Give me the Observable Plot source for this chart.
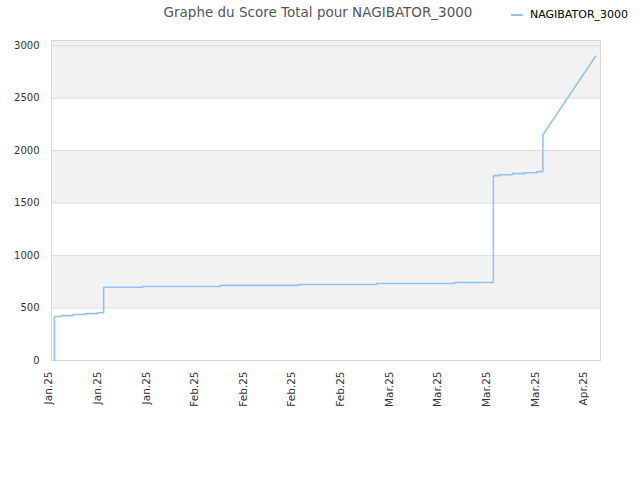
<!DOCTYPE html>
<html>
<head>
<meta charset="utf-8">
<script src="https://cdn.jsdelivr.net/npm/d3@7"></script>
<script src="https://cdn.jsdelivr.net/npm/@observablehq/plot@0.6"></script>
<style>
  body { margin: 0; background: #fff; font-family: "DejaVu Sans", sans-serif; }
  #wrap { position: relative; width: 640px; height: 480px; }
  #header { position: relative; height: 30px; }
  #title { position: absolute; left: 0; width: 636px; top: 4px; text-align: center; font-size: 13.5px; color: #555; }
  #legend { position: absolute; left: 508px; top: 8px; font-size: 11px; color: #000; display: flex; align-items: center; }
  #legend .sw { width: 12px; height: 2px; background: #92c3f2; margin-right: 7px; margin-left: 3px; }
</style>
</head>
<body>
<div id="wrap">
  <div id="header">
    <div id="title">Graphe du Score Total pour NAGIBATOR_3000</div>
    <div id="legend"><span class="sw"></span><span>NAGIBATOR_3000</span></div>
  </div>
  <div id="chart"></div>
</div>
<script>
// Series: time of each point and total score
const times = [
  "2025-01-14T03:00", "2025-01-14T03:00",
  "2025-01-15T04:00", "2025-01-15T04:00",
  "2025-01-16T21:00", "2025-01-16T21:00",
  "2025-01-18T14:00", "2025-01-18T14:00",
  "2025-01-20T08:00", "2025-01-20T08:00",
  "2025-01-21T05:00", "2025-01-21T05:00",
  "2025-01-26T19:00", "2025-01-26T19:00",
  "2025-02-07T00:00", "2025-02-07T00:00",
  "2025-02-18T06:00", "2025-02-18T06:00",
  "2025-03-01T12:00", "2025-03-01T12:00",
  "2025-03-12T17:00", "2025-03-12T17:00",
  "2025-03-18T07:00", "2025-03-18T07:00",
  "2025-03-19T07:00", "2025-03-19T07:00",
  "2025-03-21T00:00", "2025-03-21T00:00",
  "2025-03-22T19:00", "2025-03-22T19:00",
  "2025-03-24T14:00", "2025-03-24T14:00",
  "2025-03-25T10:00", "2025-03-25T10:00",
  "2025-04-02T00:00"
];
const scores = [
  0, 420,
  420, 428,
  428, 438,
  438, 447,
  447, 455,
  455, 698,
  698, 706,
  706, 716,
  716, 725,
  725, 734,
  734, 743,
  743, 1762,
  1762, 1771,
  1771, 1781,
  1781, 1790,
  1790, 1800,
  1800, 2150,
  2900
];
const seriesName = "NAGIBATOR_3000";

// Axis ticks
const xTicks = ["2025-01-13T08:00", "2025-01-20T08:00", "2025-01-27T08:00", "2025-02-03T08:00",
                "2025-02-10T08:00", "2025-02-17T08:00", "2025-02-24T08:00", "2025-03-03T08:00",
                "2025-03-10T08:00", "2025-03-17T08:00", "2025-03-24T08:00", "2025-03-31T08:00"];
const xTickLabels = ["Jan.25", "Jan.25", "Jan.25", "Feb.25", "Feb.25", "Feb.25",
                     "Feb.25", "Mar.25", "Mar.25", "Mar.25", "Mar.25", "Apr.25"];
const yTicks = [0, 500, 1000, 1500, 2000, 2500, 3000];
const bandStarts = [500, 1500, 2500];
const bandEnds = [1000, 2000, 3050];
const xDomain = ["2025-01-13T17:00", "2025-04-02T17:00"];
const yDomain = [0, 3050];

const parse = s => new Date(s + (s.length === 10 ? "T00:00Z" : "Z"));
const data = times.map((t, i) => ({date: parse(t), score: scores[i], name: seriesName}));
const bands = bandStarts.map((b, i) => ({y1: b, y2: bandEnds[i]}));
const tickDates = xTicks.map(parse);
const xFmt = d => xTickLabels[tickDates.findIndex(t => +t === +d)] ?? "";

const chart = Plot.plot({
  width: 640,
  height: 450,
  marginLeft: 51,
  marginRight: 40,
  marginTop: 10,
  marginBottom: 120,
  style: {fontFamily: "DejaVu Sans, sans-serif", fontSize: "10px", color: "#333", background: "#fff"},
  x: {type: "utc", domain: xDomain.map(parse), label: null},
  y: {domain: yDomain, label: null},
  marks: [
    Plot.rect(bands, {y1: "y1", y2: "y2", fill: "#f2f2f2"}),
    Plot.gridY(yTicks, {stroke: "#dddddd", strokeOpacity: 1}),
    Plot.frame({stroke: "#d6d6d6"}),
    Plot.line(data, {x: "date", y: "score", stroke: "#92c3f2", strokeWidth: 1.6}),
    Plot.axisX({ticks: tickDates, tickFormat: xFmt, tickRotate: -90, tickSize: 0, tickPadding: 11,
                fontSize: 10.5, label: null}),
    Plot.axisY({ticks: yTicks, tickFormat: d3.format("d"), tickSize: 0, tickPadding: 12, label: null})
  ]
});
document.getElementById("chart").appendChild(chart);
</script>
</body>
</html>
